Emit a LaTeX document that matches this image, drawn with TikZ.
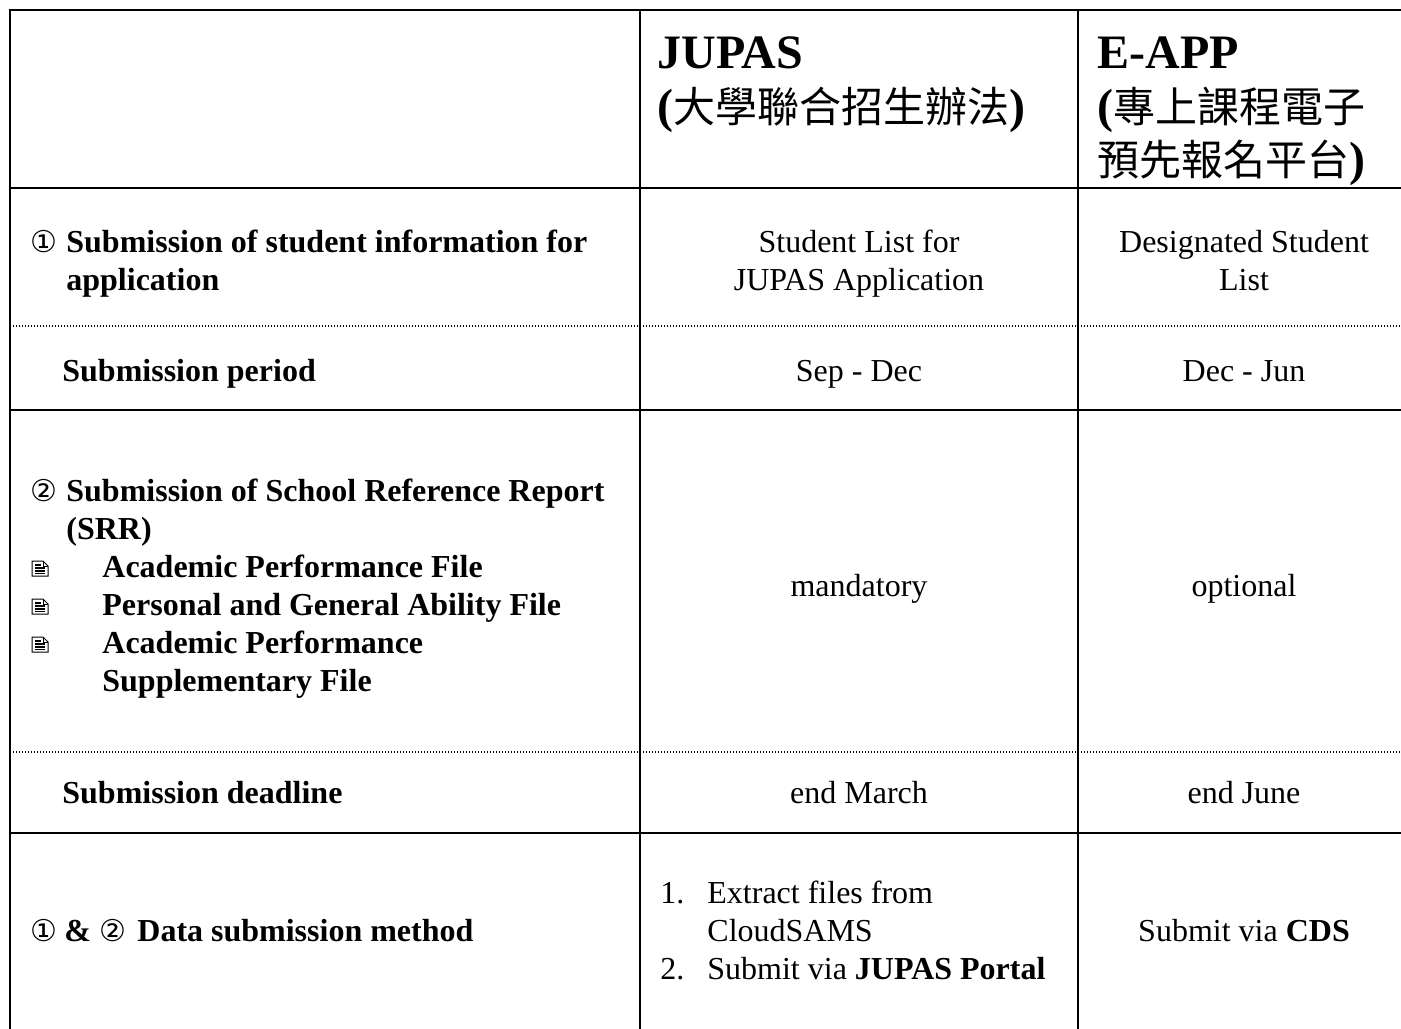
\documentclass[tikz,border=0pt]{standalone}
\usepackage{fontspec}
\setmainfont{Liberation Serif}
\newfontfamily\cjk{Noto Sans CJK TC}
\newfontfamily\dvs{DejaVu Sans}
\begin{document}
\begin{tikzpicture}[x=0.5pt,y=-0.5pt,
  gridline/.style={line width=1.2pt,line cap=rect},
  dotline/.style={line width=0.6pt,dash pattern=on 0.6pt off 0.9pt},
  txt/.style={anchor=base west,inner sep=0pt,font=\fontsize{16}{19}\selectfont},
  btxt/.style={txt,font=\fontsize{16}{19}\selectfont\bfseries},
  ctxt/.style={anchor=base,inner sep=0pt,font=\fontsize{16}{19}\selectfont},
  hdr/.style={anchor=base west,inner sep=0pt,font=\fontsize{24}{27}\selectfont\bfseries},
  circ/.style={anchor=base west,inner sep=0pt,font=\dvs\fontsize{15}{17}\selectfont},
  docicon/.pic={
    \draw[line width=0.5pt,line join=miter]
      (0,0) -- (11,0) -- (16,5) -- (16,15) -- (0,15) -- cycle;
    \draw[line width=0.5pt] (11,0) -- (11,5) -- (16,5);
    \draw[line width=0.6pt] (3,4) -- (9,4) (3,7) -- (13,7) (3,10) -- (13,10) (3,12.5) -- (13,12.5);
  }]
\useasboundingbox (0,0) rectangle (1401,1028);
% grid
\draw[gridline] (10,10) -- (1401,10);
\draw[gridline] (10,10) -- (10,1028);
\draw[gridline] (640,10) -- (640,1028);
\draw[gridline] (1078,10) -- (1078,1028);
\draw[gridline] (10,188) -- (1401,188);
\draw[gridline] (10,410) -- (1401,410);
\draw[gridline] (10,833) -- (1401,833);
\draw[dotline] (10,326) -- (1401,326);
\draw[dotline] (10,752) -- (1401,752);
% header
\node[hdr] (h1) at (657,68) {JUPAS};
\node[hdr] (h2) at (657,122) {(\mdseries{\cjk\fontsize{21}{27}\selectfont 大學聯合招生辦法}\bfseries)};
\node[hdr] (e1) at (1097,68) {E-APP};
\node[hdr] (e2) at (1097,122) {(\mdseries{\cjk\fontsize{21}{27}\selectfont 專上課程電子}};
\node[hdr] (e3) at (1097,175) {\mdseries{\cjk\fontsize{21}{27}\selectfont 預先報名平台}\bfseries)};
% row 1
\node[circ] (c1) at (30,252) {①};
\node[btxt] (r1a) at (66,252) {Submission of student information for};
\node[btxt] (r1b) at (66,290) {application};
\node[ctxt] (j1a) at (859,252) {Student List for};
\node[ctxt] (j1b) at (859,290) {JUPAS Application};
\node[ctxt] (a1a) at (1244,252) {Designated Student};
\node[ctxt] (a1b) at (1244,290) {List};
% row 2
\node[btxt] (r2) at (62,381) {Submission period};
\node[ctxt] (j2) at (859,381) {Sep - Dec};
\node[ctxt] (a2) at (1244,381) {Dec - Jun};
% row 3
\node[circ] (c2) at (30,501) {②};
\node[btxt] (r3a) at (66,501) {Submission of School Reference Report};
\node[btxt] (r3b) at (66,539) {(SRR)};
\pic (i1) at (32,561) {docicon};
\node[btxt] (r3c) at (102,577) {Academic Performance File};
\pic (i2) at (32,599) {docicon};
\node[btxt] (r3d) at (102,615) {Personal and General Ability File};
\pic (i3) at (32,637) {docicon};
\node[btxt] (r3e) at (102,653) {Academic Performance};
\node[btxt] (r3f) at (102,691) {Supplementary File};
\node[ctxt] (j3) at (859,596) {mandatory};
\node[ctxt] (a3) at (1244,596) {optional};
% row 4
\node[btxt] (r4) at (62,803) {Submission deadline};
\node[ctxt] (j4) at (859,803) {end March};
\node[ctxt] (a4) at (1244,803) {end June};
% row 5
\node[circ] (c3) at (30,941) {①};
\node[btxt] (amp) at (64,941) {\&};
\node[circ] (c4) at (99,941) {②};
\node[btxt] (r5) at (137,941) {Data submission method};
\node[txt] (n1) at (660,903) {1.};
\node[txt] (j5a) at (707,903) {Extract files from};
\node[txt] (j5b) at (707,941) {CloudSAMS};
\node[txt] (n2) at (660,979) {2.};
\node[txt] (j5c) at (707,979) {Submit via \textbf{JUPAS Portal}};
\node[ctxt] (a5) at (1244,941) {Submit via \textbf{CDS}};
\end{tikzpicture}
\end{document}
